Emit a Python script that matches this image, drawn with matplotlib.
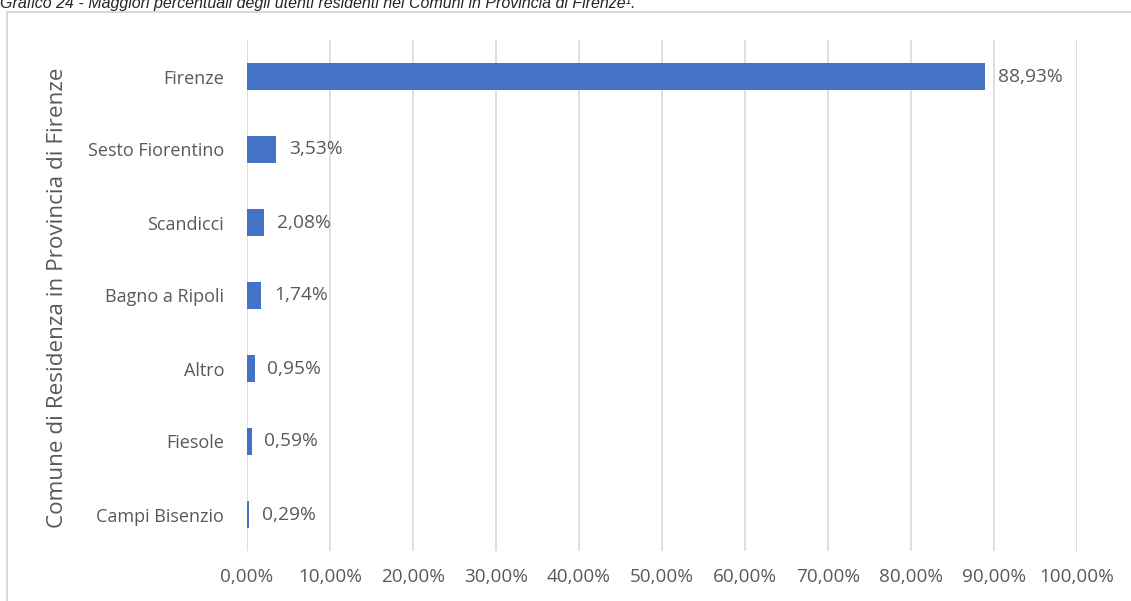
import matplotlib.pyplot as plt
from matplotlib.patches import Rectangle

comuni = ["Firenze", "Sesto Fiorentino", "Scandicci", "Bagno a Ripoli",
          "Altro", "Fiesole", "Campi Bisenzio"]
percentuali = [88.93, 3.53, 2.08, 1.74, 0.95, 0.59, 0.29]
xticks = [0, 10, 20, 30, 40, 50, 60, 70, 80, 90, 100]

W, H = 1131, 601
fig = plt.figure(figsize=(W / 100, H / 100), dpi=100)
ax = fig.add_axes([247 / W, 1 - 551 / H, (1077 - 247) / W, (551 - 40) / H])

grey = "#595959"
font = "Open Sans"


def pct(v):
    return ("%.2f%%" % v).replace(".", ",")


pos = list(range(len(comuni)))[::-1]
ax.barh(pos, percentuali, height=0.36, color="#4472c4", zorder=3)
for p, v in zip(pos, percentuali):
    ax.annotate(pct(v), (v, p), xytext=(9, 0),
                textcoords="offset points", va="center", ha="left",
                fontsize=13.8, color=grey, family=font)

ax.set_xlim(0, 100)
ax.set_ylim(-0.5, len(comuni) - 0.5)
ax.set_xticks(xticks)
ax.set_xticklabels([pct(t) for t in xticks],
                   fontsize=13.6, color=grey, family=font)
ax.set_yticks(pos)
ax.set_yticklabels(comuni, fontsize=13, color=grey, family=font)
ax.tick_params(axis="both", length=0)
ax.tick_params(axis="x", pad=12)
ax.tick_params(axis="y", pad=16.5)
ax.grid(axis="x", color="#d9d9d9", linewidth=1.2, zorder=0)
for s in ax.spines.values():
    s.set_visible(False)

fig.text(58 / W, 1 - 298 / H, "Comune di Residenza in Provincia di Firenze",
         rotation=90, ha="center", va="center", fontsize=16.2, color=grey,
         family=font)

# bordo dell'area del grafico
fig.patches.append(Rectangle((7 / W, -0.1), 1.2, 1 - 12 / H + 0.1,
                             transform=fig.transFigure, fill=False,
                             edgecolor="#d9d9d9", linewidth=1.5, zorder=0))

fig.text(0.0, 1 - 8 / H,
         "Grafico 24 - Maggiori percentuali degli utenti residenti nei Comuni in Provincia di Firenze\u00b9.",
         ha="left", va="baseline", fontsize=11.5, style="italic",
         family="Liberation Sans", color="#262626")

fig.savefig("out.png", dpi=100)
